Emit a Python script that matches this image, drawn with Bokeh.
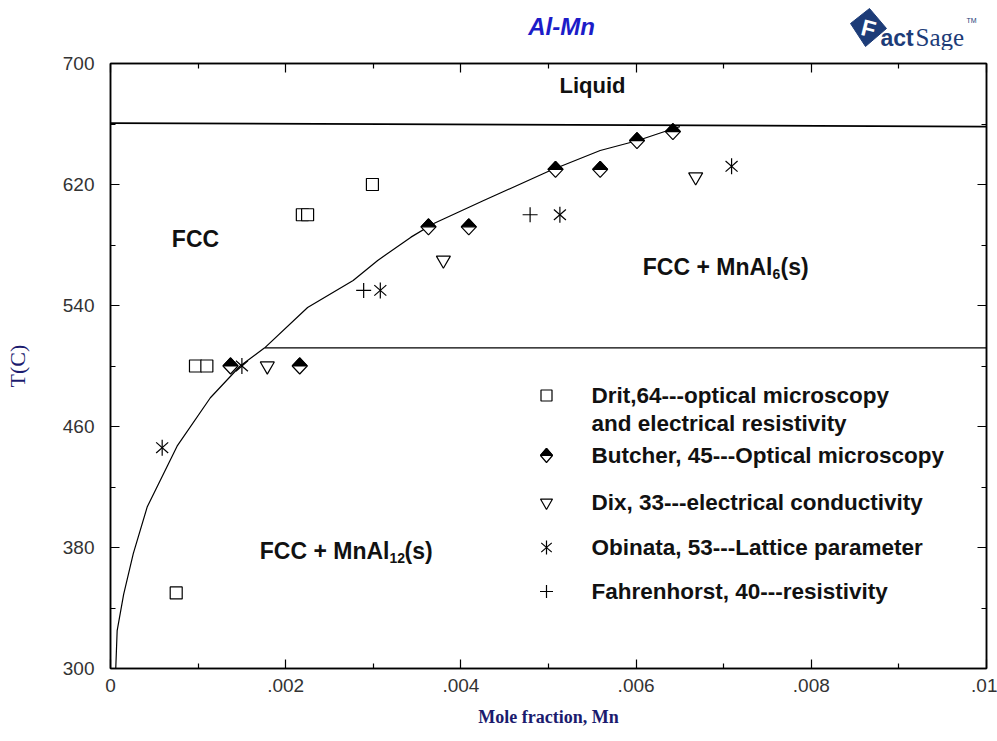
from bokeh.plotting import figure
from bokeh.layouts import column
from bokeh.models import Range1d, LinearAxis, FixedTicker, CustomJSTickFormatter
from bokeh.core.properties import value
from bokeh.embed import file_html
from bokeh.resources import INLINE

# ---------------- data ----------------
x_ticks = [0.0, 0.002, 0.004, 0.006, 0.008, 0.01]
x_tick_labels = ["0", ".002", ".004", ".006", ".008", ".01"]
x_minor_ticks = [0.001, 0.003, 0.005, 0.007, 0.009]
y_ticks = [300, 380, 460, 540, 620, 700]
y_tick_labels = ["300", "380", "460", "540", "620", "700"]
y_minor_ticks = [340, 420, 500, 580, 660]

# calculated phase boundaries
liquidus_x = [0.0, 0.01]
liquidus_t = [660.6, 658.3]
peritectoid_x = [0.00176, 0.01]
peritectoid_t = [512, 512]
mnal6_solvus_x = [0.00176, 0.00225, 0.00277, 0.00305, 0.00343, 0.00369,
                  0.00426, 0.00502, 0.00559, 0.00602, 0.00643, 0.00650]
mnal6_solvus_t = [512, 538.7, 556.5, 569.8, 585.2, 594.2,
                  609.4, 629.3, 642.5, 649.1, 657.0, 658.3]
mnal12_solvus_x = [0.00176, 0.00148, 0.00114, 0.00076, 0.00042, 0.00026,
                   0.00015, 0.000076, 0.00006]
mnal12_solvus_t = [512, 500, 479, 447, 407, 376, 349, 325, 300]

# experimental points
drit_x = [0.00075, 0.00097, 0.00110, 0.00219, 0.00225, 0.00299]
drit_t = [350, 500, 500, 600, 600, 620]
butcher_x = [0.00137, 0.00216, 0.00363, 0.00409, 0.00508, 0.00559, 0.00601, 0.00642]
butcher_t = [500, 500, 592, 592, 630, 630, 649, 655]
dix_x = [0.00179, 0.00380, 0.00668]
dix_t = [500, 570, 625]
obinata_x = [0.00059, 0.00150, 0.00308, 0.00513, 0.00709]
obinata_t = [446, 500, 550, 600, 632]
fahrenhorst_x = [0.00289, 0.00479]
fahrenhorst_t = [550, 600]

legend_texts = ["Drit,64---optical microscopy", "and electrical resistivity",
                "Butcher, 45---Optical microscopy", "Dix, 33---electrical conductivity",
                "Obinata, 53---Lattice parameter", "Fahrenhorst, 40---resistivity"]

# ---------------- layout ----------------
W = 997
HEAD_H = 50                      # header strip with title and logo
X0, X1 = 0.0, 0.01
Y0, Y1 = 300.0, 700.0
FRAME_L, FRAME_W, FRAME_H = 110, 876, 605
FRAME_T = 63                     # frame top, in page pixel rows
TOP_PAD = FRAME_T - HEAD_H
MAIN_H = 741 - HEAD_H


def sx(px):
    """page pixel column -> data x"""
    return X0 + (px - FRAME_L) * (X1 - X0) / FRAME_W


def sy(py):
    """page pixel row -> data y"""
    return Y1 - (py - FRAME_T) * (Y1 - Y0) / FRAME_H


DX = (X1 - X0) / FRAME_W   # data units per pixel
DY = (Y1 - Y0) / FRAME_H

NAVY = "#1b1b6e"
LOGO = "#1d3c78"
INK = "#111111"
SANS = "Liberation Sans"
SERIF = "Liberation Serif"

# ---------------- header: title + logo ----------------
# the column aligns this frame with the diagram frame, so its x range is
# expressed in page pixel columns
head = figure(width=W, height=HEAD_H, x_range=Range1d(FRAME_L, FRAME_L + FRAME_W),
              y_range=Range1d(HEAD_H, 0),
              output_backend="svg", toolbar_location=None,
              min_border_left=0, min_border_right=0, min_border_top=0, min_border_bottom=0)
head.axis.visible = False
head.xgrid.visible = False
head.ygrid.visible = False
head.outline_line_color = None
head.background_fill_color = "white"
head.border_fill_color = "white"

head.text([561], [26], ["Al-Mn"], text_font=value(SANS), text_font_style="bold italic",
          text_font_size="24px", text_color="#1c1cc8", text_align="center",
          text_baseline="middle")
head.patch([850, 869, 886, 865], [23, 8, 28, 46], fill_color=LOGO, line_color=LOGO)
head.text([868], [28], ["F"], text_font=value(SANS), text_font_style="bold",
          text_font_size="23px", text_color="white", text_align="center",
          text_baseline="middle", angle=-0.25)
head.text([880], [37], ["act"], text_font=value(SANS), text_font_style="bold",
          text_font_size="23px", text_color=LOGO, text_align="left",
          text_baseline="alphabetic")
head.text([915], [37], ["Sage"], text_font=value("Liberation Sans Narrow"),
          text_font_size="25px", text_color=LOGO, text_align="left",
          text_baseline="alphabetic")
head.text([966], [20], ["TM"], text_font=value(SANS), text_font_size="7px",
          text_color=LOGO, text_align="left", text_baseline="alphabetic")

# ---------------- main diagram ----------------
p = figure(width=W, height=MAIN_H, x_range=Range1d(X0, X1), y_range=Range1d(Y0, Y1),
           output_backend="svg", toolbar_location=None,
           min_border_left=FRAME_L, min_border_right=W - FRAME_L - FRAME_W,
           min_border_top=TOP_PAD, min_border_bottom=MAIN_H - TOP_PAD - FRAME_H)
p.xgrid.visible = False
p.ygrid.visible = False
p.outline_line_color = "black"
p.outline_line_width = 1.5
p.background_fill_color = "white"
p.border_fill_color = "white"


def style_axis(ax):
    ax.axis_line_width = 1.5
    ax.axis_line_color = "black"
    ax.major_tick_in = 9
    ax.major_tick_out = 0
    ax.minor_tick_in = 5
    ax.minor_tick_out = 0
    ax.major_tick_line_width = 1.2
    ax.minor_tick_line_width = 1.2
    ax.major_label_text_font = SANS
    ax.major_label_text_font_size = "19px"
    ax.major_label_text_color = "#333333"


xa = p.xaxis[0]
xa.ticker = FixedTicker(ticks=x_ticks, minor_ticks=x_minor_ticks)
xa.major_label_overrides = dict(zip(x_ticks, x_tick_labels))
style_axis(xa)
xa.major_label_standoff = 10
xa.axis_label = "Mole fraction, Mn"
xa.axis_label_text_font = SERIF
xa.axis_label_text_font_style = "bold"
xa.axis_label_text_font_size = "18px"
xa.axis_label_text_color = NAVY
xa.axis_label_standoff = 12

ya = p.yaxis[0]
ya.ticker = FixedTicker(ticks=y_ticks, minor_ticks=y_minor_ticks)
ya.major_label_overrides = dict(zip(y_ticks, y_tick_labels))
style_axis(ya)
ya.major_label_standoff = 16
ya.axis_label = "T(C)"
ya.axis_label_text_font = SERIF
ya.axis_label_text_font_style = "normal"
ya.axis_label_text_font_size = "22px"
ya.axis_label_text_color = NAVY
ya.axis_label_standoff = 30

# tick-only mirror axes on the top and right edges
no_labels = CustomJSTickFormatter(code="return ''")
for loc, tk, mt in (("above", x_ticks, x_minor_ticks), ("right", y_ticks, y_minor_ticks)):
    ax = LinearAxis(ticker=FixedTicker(ticks=tk, minor_ticks=mt), formatter=no_labels)
    style_axis(ax)
    ax.major_label_text_color = None
    ax.major_label_standoff = 0
    p.add_layout(ax, loc)

# ---------------- phase boundaries ----------------
p.line(liquidus_x, liquidus_t, line_color="black", line_width=1.8)
p.line(peritectoid_x, peritectoid_t, line_color="black", line_width=1.3)
p.line(mnal6_solvus_x, mnal6_solvus_t, line_color="black", line_width=1.2)
p.line(mnal12_solvus_x, mnal12_solvus_t, line_color="black", line_width=1.2)

# ---------------- experimental points ----------------
MK = dict(line_color="black", line_width=1.2)


def half_diamonds(xs, ys, w_px, h_px):
    dx, dy = w_px * DX, h_px * DY
    outline_x = [[x - dx, x, x + dx, x] for x in xs]
    outline_y = [[y, y + dy, y, y - dy] for y in ys]
    top_x = [[x - dx, x, x + dx] for x in xs]
    top_y = [[y, y + dy, y] for y in ys]
    p.patches(outline_x, outline_y, fill_color="white", **MK)
    p.patches(top_x, top_y, fill_color="black", **MK)


def asterisks(xs, ys, size):
    for ang in (1.5708, 0.72, -0.72):
        p.scatter(xs, ys, marker="dash", size=size, angle=ang, **MK)


p.scatter(drit_x, drit_t, marker="square", size=12, fill_color="white", **MK)
half_diamonds(butcher_x, butcher_t, 7.5, 8)
p.scatter(dix_x, dix_t, marker="inverted_triangle", size=14, fill_color="white", **MK)
asterisks(obinata_x, obinata_t, 16)
p.scatter(fahrenhorst_x, fahrenhorst_t, marker="cross", size=15, **MK)

# ---------------- phase region labels ----------------
REG = dict(text_font=value(SANS), text_font_style="bold", text_color=INK,
           text_baseline="middle")
p.text([sx(592)], [sy(85)], ["Liquid"], text_font_size="22px", text_align="center", **REG)
p.text([sx(195)], [sy(238)], ["FCC"], text_font_size="23px", text_align="center", **REG)
for ax_px, ay_px, sub, sub_w in ((772, 266, "6", 8), (389, 550, "12", 15)):
    p.text([sx(ax_px)], [sy(ay_px)], ["FCC + MnAl"], text_font_size="23px",
           text_align="right", **REG)
    p.text([sx(ax_px)], [sy(ay_px)], [sub], text_font_size="14px",
           text_align="left", y_offset=7, **REG)
    p.text([sx(ax_px)], [sy(ay_px)], ["(s)"], text_font_size="23px",
           text_align="left", x_offset=sub_w, **REG)

# ---------------- legend ----------------
LEG_X = 546
legend_rows = [395, 423, 455, 502, 547, 591]
p.scatter([sx(LEG_X)], [sy(legend_rows[0])], marker="square", size=11,
          fill_color="white", **MK)
half_diamonds([sx(LEG_X)], [sy(legend_rows[2])], 6, 7)
p.scatter([sx(LEG_X)], [sy(legend_rows[3])], marker="inverted_triangle", size=12,
          fill_color="white", **MK)
asterisks([sx(LEG_X)], [sy(legend_rows[4])], 14)
p.scatter([sx(LEG_X)], [sy(legend_rows[5])], marker="cross", size=13, **MK)
p.text([sx(591)] * len(legend_texts), [sy(r) for r in legend_rows], legend_texts,
       text_font_size="22.5px", text_align="left", **REG)

page = column(head, p, spacing=0)
open("out.html", "w").write(file_html(page, INLINE))
